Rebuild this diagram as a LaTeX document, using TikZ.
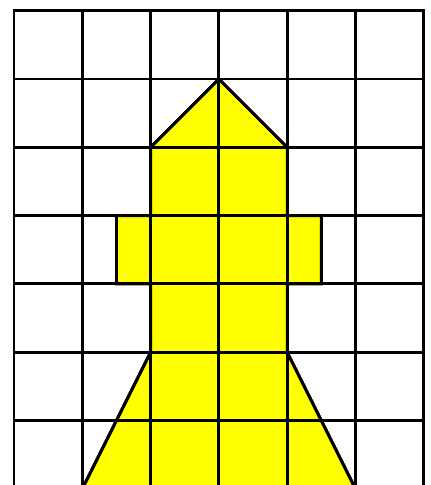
\documentclass[tikz,border=0pt]{standalone}
\begin{document}
\begin{tikzpicture}[
  gridline/.style={line width=1.2pt, black},
  shapefill/.style={fill={rgb,255:red,255;green,255;blue,0}, draw=black, line width=1.2pt, line join=miter}
]
\useasboundingbox[fill=white] (-0.205,0.056) rectangle (6.091,7.157);
% yellow figure
\filldraw[shapefill] (3,6) -- (4,5) -- (4,4) -- (4.5,4) -- (4.5,3) -- (4,3) -- (4,2) -- (5,0)
  -- (1,0) -- (2,2) -- (2,3) -- (1.5,3) -- (1.5,4) -- (2,4) -- (2,5) -- cycle;
% grid
\draw[gridline] (0,0) grid (6,7);
\draw[gridline] (0,0) rectangle (6,7);
% roof edges on top
\draw[gridline] (2,5) -- (3,6) -- (4,5);
\draw[gridline] (2,2) -- (1,0);
\draw[gridline] (4,2) -- (5,0);
\draw[gridline] (1.5,3) rectangle (4.5,4);
\end{tikzpicture}
\end{document}
